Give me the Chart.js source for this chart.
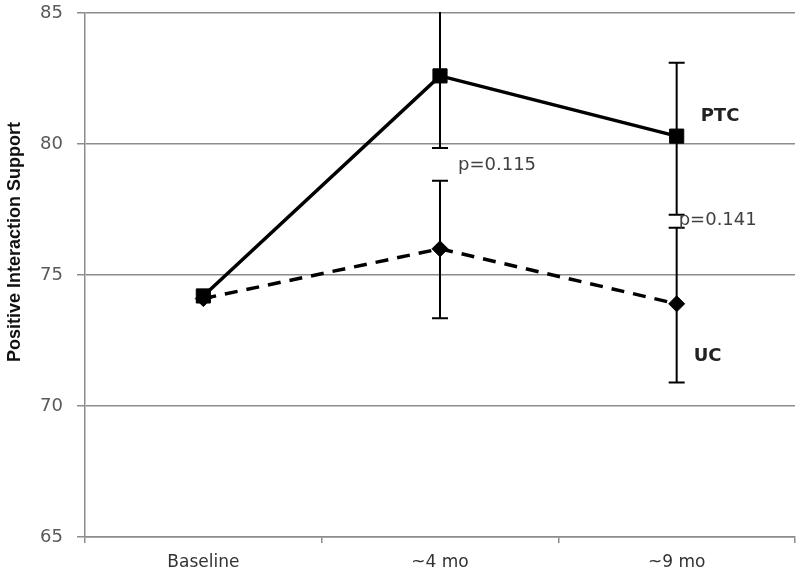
<!DOCTYPE html>
<html>
<head>
<meta charset="utf-8">
<script src="https://cdn.jsdelivr.net/npm/chart.js@4"></script>
<style>
  body { margin: 0; background: #fff; }
  #wrap { width: 800px; height: 585px; }
</style>
</head>
<body>
<div id="wrap"><canvas id="myChart"></canvas></div>
<script>
const categories = ['Baseline', '~4 mo', '~9 mo'];
const ptcMeans = [74.2, 82.6, 80.3];
const ptcUpper = [null, 85.3, 83.1];
const ptcLower = [null, 79.85, 77.3];
const ucMeans = [74.1, 76.0, 73.9];
const ucUpper = [null, 78.6, 76.8];
const ucLower = [null, 73.35, 70.9];
const yTicks = [65, 70, 75, 80, 85];
const yTitle = 'Positive Interaction Support';

// text notes: [text, category index, value, x shift, bold]
const notes = [
  ['p=0.115', 1, 79.2, 18, false],
  ['p=0.141', 2, 77.1, 2, false],
  ['PTC', 2, 81.05, 24, true],
  ['UC', 2, 71.9, 17, true]
];

const errorBars = {
  id: 'errorBars',
  afterDatasetsDraw(chart) {
    const { ctx, chartArea, scales } = chart;
    const sets = [[ptcUpper, ptcLower], [ucUpper, ucLower]];
    ctx.save();
    ctx.beginPath();
    ctx.rect(chartArea.left, chartArea.top - 1, chartArea.width, chartArea.height + 1);
    ctx.clip();
    ctx.strokeStyle = '#000';
    ctx.lineWidth = 2;
    sets.forEach(([up, lo]) => {
      up.forEach((u, i) => {
        if (u === null) return;
        const x = scales.x.getPixelForValue(i);
        const y1 = scales.y.getPixelForValue(u);
        const y2 = scales.y.getPixelForValue(lo[i]);
        ctx.beginPath();
        ctx.moveTo(x, y1); ctx.lineTo(x, y2);
        ctx.moveTo(x - 8, y1); ctx.lineTo(x + 8, y1);
        ctx.moveTo(x - 8, y2); ctx.lineTo(x + 8, y2);
        ctx.stroke();
      });
    });
    ctx.restore();
  }
};

const textBits = {
  id: 'textBits',
  afterDraw(chart) {
    const { ctx, scales } = chart;
    ctx.save();
    ctx.textBaseline = 'middle';
    ctx.textAlign = 'left';
    notes.forEach(([t, i, v, dx, bold]) => {
      ctx.font = bold ? 'bold 18px "DejaVu Sans"' : '18px "DejaVu Sans"';
      ctx.fillStyle = bold ? '#222' : '#404040';
      ctx.fillText(t, scales.x.getPixelForValue(i) + dx, scales.y.getPixelForValue(v));
    });
    ctx.translate(15, 242);
    ctx.rotate(-Math.PI / 2);
    ctx.textAlign = 'center';
    ctx.font = 'bold 18px "Liberation Sans"';
    ctx.fillStyle = '#111';
    ctx.fillText(yTitle, 0, 0);
    ctx.restore();
  }
};

const ctx = document.getElementById('myChart');
new Chart(ctx, {
  type: 'line',
  data: {
    labels: categories,
    datasets: [
      {
        label: 'PTC',
        data: ptcMeans,
        borderColor: '#000',
        backgroundColor: '#000',
        borderWidth: 3.5,
        pointStyle: 'rect',
        pointRadius: 10,
        pointBorderWidth: 1,
        tension: 0
      },
      {
        label: 'UC',
        data: ucMeans,
        borderColor: '#000',
        backgroundColor: '#000',
        borderWidth: 3.5,
        borderDash: [13, 9],
        pointStyle: 'rectRot',
        pointRadius: 8,
        pointBorderWidth: 1,
        tension: 0
      }
    ]
  },
  options: {
    responsive: true,
    maintainAspectRatio: false,
    animation: false,
    layout: { autoPadding: false, padding: { top: 13, right: 5, left: 0, bottom: 0 } },
    plugins: { legend: { display: false }, tooltip: { enabled: false } },
    scales: {
      x: {
        offset: true,
        afterFit: s => { s.height = 48; s.paddingLeft = 0; s.paddingRight = 0; },
        grid: { offset: true, drawOnChartArea: false, color: '#8c8c8c', lineWidth: 1.5, tickLength: 6 },
        border: { color: '#8c8c8c', width: 1.5 },
        ticks: { color: '#333', font: { family: 'DejaVu Sans', size: 17 }, padding: 9 }
      },
      y: {
        min: 65,
        max: 85,
        afterFit: s => { s.width = 85; s.paddingTop = 0; s.paddingBottom = 0; },
        afterBuildTicks: s => { s.ticks = yTicks.map(v => ({ value: v })); },
        grid: { color: '#8c8c8c', lineWidth: 1.5, tickLength: 8 },
        border: { color: '#8c8c8c', width: 1.5 },
        ticks: { color: '#595959', font: { family: 'DejaVu Sans', size: 18 }, padding: 14 }
      }
    }
  },
  plugins: [errorBars, textBits]
});
</script>
</body>
</html>
